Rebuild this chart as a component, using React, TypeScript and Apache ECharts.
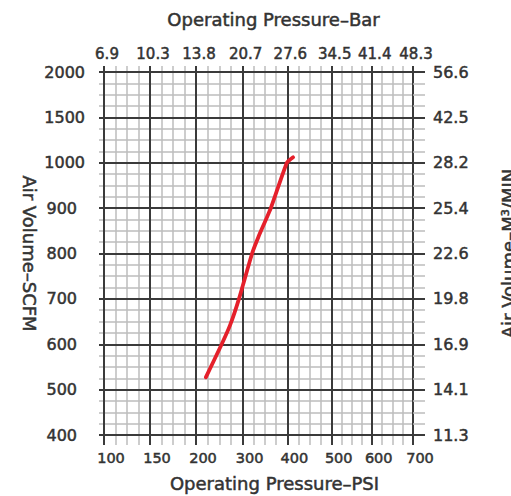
import React, { useEffect, useRef } from 'react';
import * as echarts from 'echarts';

// Tick labels (left-to-right / bottom-to-top)
const psiTicks = [100, 150, 200, 300, 400, 500, 600, 700];
const barTicks = ['6.9', '10.3', '13.8', '20.7', '27.6', '34.5', '41.4', '48.3'];
const scfmTicks = [400, 500, 600, 700, 800, 900, 1000, 1500, 2000];
const m3Ticks = ['11.3', '14.1', '16.9', '19.8', '22.6', '25.4', '28.2', '42.5', '56.6'];

// Performance curve (PSI vs SCFM)
const curvePsi = [221, 255, 273, 292, 321, 335, 363, 399, 413];
const curveScfm = [527, 600, 642, 700, 800, 836, 900, 1000, 1060];

// Where each PSI major grid line sits along the (slightly uneven) printed x scale, 0..7
const xMajorAt = [0, 1.042, 2.084, 3.142, 4.153, 5.159, 6.065, 7];
const xMinorAt: number[] = [];
for (let i = 0; i < xMajorAt.length - 1; i++) {
  for (let k = 1; k < 4; k++) xMinorAt.push(xMajorAt[i] + ((xMajorAt[i + 1] - xMajorAt[i]) * k) / 4);
}

// map a real value onto the chart's tick scale (piecewise linear between ticks)
function toPos(v: number, ticks: number[], at: number[]): number {
  for (let i = 0; i < ticks.length - 1; i++) {
    if (v <= ticks[i + 1] || i === ticks.length - 2) {
      const f = (v - ticks[i]) / (ticks[i + 1] - ticks[i]);
      return at[i] + f * (at[i + 1] - at[i]);
    }
  }
  return 0;
}
const yAt = scfmTicks.map((_, i) => i);

const FONT = 'DejaVu Sans';
const TEXT = '#333';
const MAJOR = '#3a3a3a';
const MINOR = '#bdbdbd';

const txt = (fontSize: number, extra: Record<string, unknown> = {}) => ({
  color: TEXT,
  fontFamily: FONT,
  fontSize,
  textBorderColor: TEXT,
  textBorderWidth: 0.5,
  ...extra,
});

const labelIndex = (v: number) => xMajorAt.findIndex((p) => Math.abs(p - v) < 1e-6);

export default function App() {
  const ref = useRef<HTMLDivElement>(null);
  useEffect(() => {
    if (!ref.current) return;
    const chart = echarts.init(ref.current, null, { renderer: 'svg' });
    const data = curvePsi.map((p, i) => [toPos(p, psiTicks, xMajorAt), toPos(curveScfm[i], scfmTicks, yAt)]);

    const xAxisBase = (position: 'top' | 'bottom', tickLen: number) => ({
      type: 'value',
      position,
      min: 0,
      max: 7,
      axisLine: { show: true, onZero: false, lineStyle: { color: MAJOR, width: 2 } },
      nameLocation: 'middle',
      nameMoveOverlap: false,
      z: 2,
      axisTick: { show: true, length: tickLen, customValues: xMajorAt, lineStyle: { color: MAJOR, width: 2 } },
      minorTick: { show: false },
      minorSplitLine: { show: false },
    });
    const xMinorAxis = (position: 'top' | 'bottom', tickLen: number) => ({
      type: 'value',
      position,
      min: 0,
      max: 7,
      z: 1,
      axisLine: { show: false, onZero: false },
      axisLabel: { show: false },
      axisTick: { show: true, length: tickLen, customValues: xMinorAt, lineStyle: { color: MINOR, width: 1.5 } },
      splitLine: { show: position === 'bottom', lineStyle: { color: MINOR, width: 1.5 } },
      minorTick: { show: false },
      minorSplitLine: { show: false },
    });
    const yBase = (position: 'left' | 'right', tickLen: number) => ({
      type: 'value',
      position,
      min: 0,
      max: scfmTicks.length - 1,
      interval: 1,
      z: position === 'left' ? 1.5 : 2,
      axisLine: { show: true, onZero: false, lineStyle: { color: MAJOR, width: 2 } },
      axisTick: { show: true, length: tickLen, lineStyle: { color: MAJOR, width: 2 } },
      minorTick: { show: true, splitNumber: 4, length: tickLen, lineStyle: { color: MINOR, width: 1.5 } },
      nameLocation: 'middle',
      nameMoveOverlap: false,
      nameTextStyle: txt(18),
    });

    chart.setOption({
      animation: false,
      backgroundColor: '#fff',
      grid: { left: 104, right: 98, top: 72, bottom: 61, containLabel: false, outerBoundsMode: 'none' },
      xAxis: [
        {
          ...xAxisBase('bottom', 10),
          name: 'Operating Pressure–PSI',
          nameGap: 39,
          nameTextStyle: txt(18, { padding: [0, 0, 0, 32] }),
          axisLabel: {
            customValues: xMajorAt,
            formatter: (v: number) => String(psiTicks[labelIndex(v)] ?? ''),
            ...txt(14.5),
            margin: 15,
            padding: [0, 0, 0, 14],
          },
          splitLine: { show: true, lineStyle: { color: MAJOR, width: 2 } },
        },
        {
          ...xAxisBase('top', 6),
          name: 'Operating Pressure–Bar',
          nameGap: 44,
          nameTextStyle: txt(18, { padding: [0, 0, 0, 30] }),
          axisLabel: {
            customValues: xMajorAt,
            formatter: (v: number) => barTicks[labelIndex(v)] ?? '',
            ...txt(15),
            margin: 11,
            padding: [0, 0, 0, 6],
          },
          splitLine: { show: false },
        },
        xMinorAxis('bottom', 10),
        xMinorAxis('top', 6),
      ],
      yAxis: [
        {
          ...yBase('left', 5),
          name: 'Air Volume–SCFM',
          nameRotate: -90,
          nameGap: 66,
          axisLabel: {
            formatter: (v: number) => {
              const s = String(scfmTicks[Math.round(v)] ?? '');
              return s.length < 4 ? `{b|${s}}` : `{a|${s}}`;
            },
            margin: 19,
            rich: {
              a: txt(16),
              b: txt(16, { padding: [0, 8, 0, 0] }),
            },
          },
          splitLine: { show: true, lineStyle: { color: MAJOR, width: 2 } },
          minorSplitLine: { show: true, lineStyle: { color: MINOR, width: 1.5 } },
        },
        {
          ...yBase('right', 12),
          name: 'Air Volume–M³/MIN',
          nameRotate: 90,
          nameGap: 86,
          axisLabel: {
            formatter: (v: number) => m3Ticks[Math.round(v)] ?? '',
            ...txt(16),
            margin: 20,
          },
          splitLine: { show: false },
          minorSplitLine: { show: false },
        },
      ],
      series: [
        {
          type: 'line',
          xAxisIndex: 0,
          yAxisIndex: 0,
          data,
          showSymbol: false,
          symbol: 'none',
          smooth: 0.15,
          lineStyle: { color: '#e5202b', width: 3.8, cap: 'round' },
          z: 10,
        },
      ],
    });
    return () => chart.dispose();
  }, []);
  return (
    <div
      ref={ref}
      style={{ position: 'fixed', left: 0, top: 0, width: 511, height: 496, background: '#fff' }}
    />
  );
}
